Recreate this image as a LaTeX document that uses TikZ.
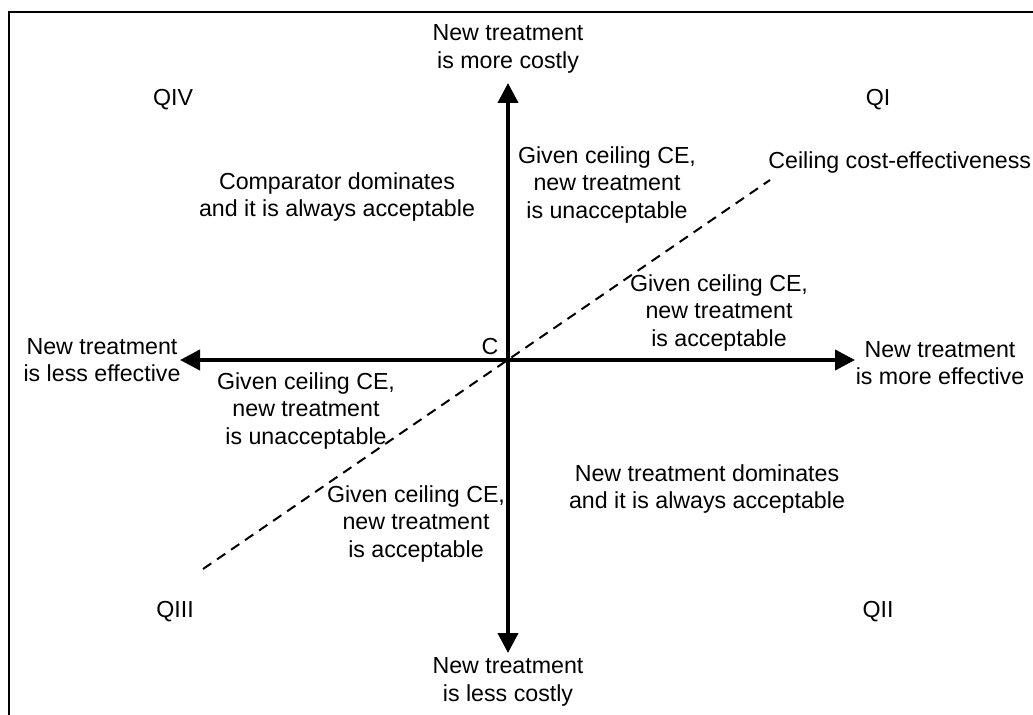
\documentclass[tikz,border=0pt]{standalone}
\usepackage{fontspec}
\setmainfont{Liberation Sans}
\usetikzlibrary{arrows.meta}
\tikzset{
    lbl/.style={align=center, inner sep=0pt, font=\fontsize{11.6}{13.75}\selectfont},
    axis/.style={line width=2pt, -{Triangle[width=10pt,length=10pt]}},
    ceiling/.style={line width=1pt, dash pattern=on 5pt off 3.5pt}
}
\begin{document}
\begin{tikzpicture}[x=0.5pt, y=-0.5pt]
    \useasboundingbox (0,0) rectangle (1033,715);
    % Frame
    \draw[line width=0.8pt] (9,715) -- (9,12) -- (1033,12);
    % Axes
    \coordinate (o) at (508,360);
    \coordinate (up) at (508,83);
    \coordinate (down) at (508,653);
    \coordinate (left) at (180,360);
    \coordinate (right) at (855,360);
    \draw[axis] (o) -- (up);
    \draw[axis] (o) -- (down);
    \draw[axis] (o) -- (left);
    \draw[axis] (o) -- (right);
    \node[lbl] (c) at (490,347) {C};
    % Ceiling line
    \coordinate (lo) at (203,569);
    \coordinate (hi) at (770,180);
    \draw[ceiling] (lo) -- (hi);
    \node[lbl, anchor=west] (ceil) at (768,163) {Ceiling cost-effectiveness};
    % Axis labels
    \node[lbl] (costly) at (508,49) {New treatment\\is more costly};
    \node[lbl] (cheap) at (508,682) {New treatment\\is less costly};
    \node[lbl] (worse) at (102,360) {New treatment\\is less effective};
    \node[lbl] (better) at (940,363) {New treatment\\is more effective};
    % Quadrants
    \node[lbl] (q4) at (173,100) {QIV};
    \node[lbl] (q1) at (878,100) {QI};
    \node[lbl] (q3) at (175,612) {QIII};
    \node[lbl] (q2) at (878,612) {QII};
    % Regions
    \node[lbl] (comp) at (337,197) {Comparator dominates\\and it is always acceptable};
    \node[lbl] (q1a) at (607,185) {Given ceiling CE,\\new treatment\\is unacceptable};
    \node[lbl] (q1b) at (719,313) {Given ceiling CE,\\new treatment\\is acceptable};
    \node[lbl] (q3a) at (306,411) {Given ceiling CE,\\new treatment\\is unacceptable};
    \node[lbl] (q3b) at (416,524) {Given ceiling CE,\\new treatment\\is acceptable};
    \node[lbl] (newt) at (707,489) {New treatment dominates\\and it is always acceptable};
\end{tikzpicture}
\end{document}
